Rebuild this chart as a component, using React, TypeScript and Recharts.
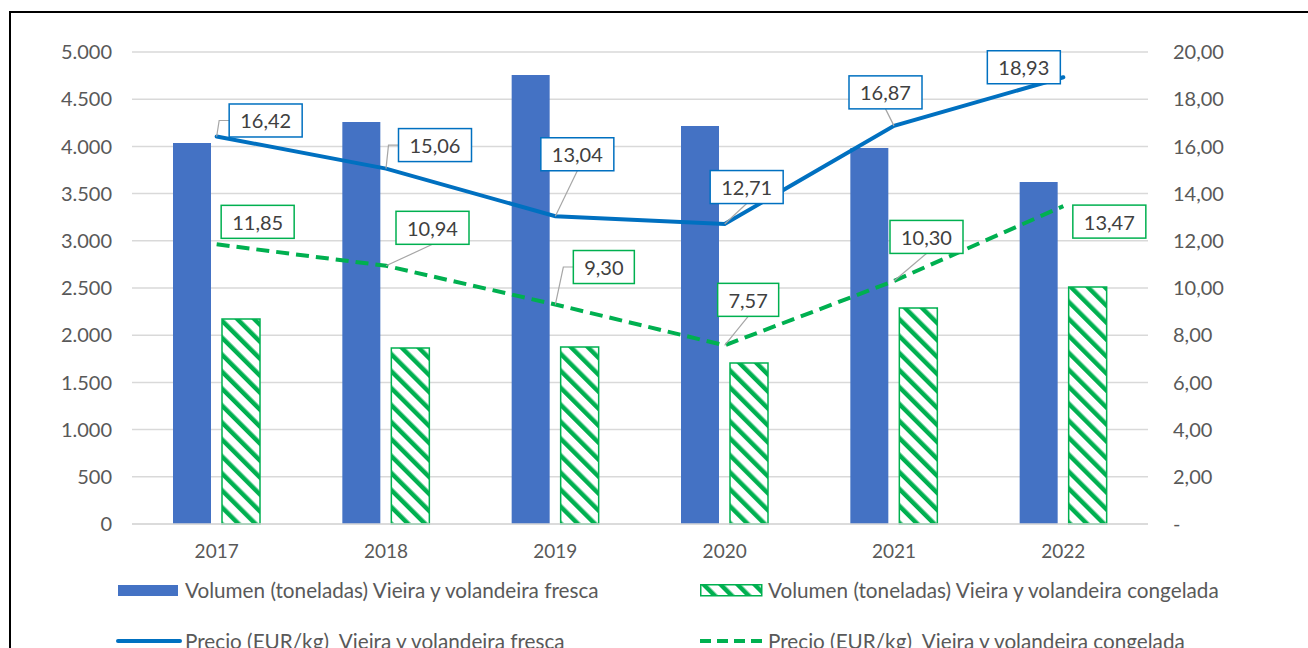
import { ComposedChart, Bar, Line, XAxis, YAxis, CartesianGrid, LabelList } from 'recharts';

const YEARS = ['2017', '2018', '2019', '2020', '2021', '2022'];
const VOL_FRESCA = [4036, 4258, 4756, 4216, 3983, 3623];
const VOL_CONGELADA = [2172, 1864, 1875, 1706, 2288, 2511];
const PRECIO_FRESCA = [16.42, 15.06, 13.04, 12.71, 16.87, 18.93];
const PRECIO_CONGELADA = [11.85, 10.94, 9.3, 7.57, 10.3, 13.47];
const VOL_TICKS = [0, 500, 1000, 1500, 2000, 2500, 3000, 3500, 4000, 4500, 5000];
const PRECIO_TICKS = [0, 2, 4, 6, 8, 10, 12, 14, 16, 18, 20];
const SERIES_NAMES = [
  'Volumen (toneladas) Vieira y volandeira fresca',
  'Volumen (toneladas) Vieira y volandeira congelada',
  'Precio (EUR/kg)  Vieira y volandeira fresca',
  'Precio (EUR/kg)  Vieira y volandeira congelada',
];

const BLUE_BAR = '#4472c4';
const BLUE_LINE = '#0070c0';
const GREEN = '#00b050';
const GRID = '#d9d9d9';
const AXIS_TEXT = '#595959';
const LABEL_TEXT = '#404040';
const FONT = 'Lato, sans-serif';

type Leader = 'elbow' | 'down' | 'none';
// where each data label box sits relative to its point (Excel moved them by hand)
const FRESCA_LABEL_POS: { dx: number; dy: number; leader: Leader }[] = [
  { dx: 49, dy: -16, leader: 'elbow' },
  { dx: 49, dy: -23.5, leader: 'elbow' },
  { dx: 22, dy: -62, leader: 'down' },
  { dx: 22, dy: -37, leader: 'down' },
  { dx: -8.5, dy: -33.5, leader: 'down' },
  { dx: -39.5, dy: -10, leader: 'none' },
];
const CONGELADA_LABEL_POS: { dx: number; dy: number; leader: Leader }[] = [
  { dx: 41, dy: -22.5, leader: 'none' },
  { dx: 46.5, dy: -38, leader: 'down' },
  { dx: 48.5, dy: -37.5, leader: 'elbow' },
  { dx: 23.5, dy: -45.5, leader: 'down' },
  { dx: 32.5, dy: -44, leader: 'down' },
  { dx: 46, dy: 15.5, leader: 'none' },
];

const data = YEARS.map((year, i) => ({
  year,
  volFresca: VOL_FRESCA[i],
  volCongelada: VOL_CONGELADA[i],
  precioFresca: PRECIO_FRESCA[i],
  precioCongelada: PRECIO_CONGELADA[i],
}));

const fmtVol = (v: number) => v.toLocaleString('de-DE');
const fmtPrecio = (v: number) => (v === 0 ? '-' : v.toFixed(2).replace('.', ','));

function makeLabel(color: string, pos: { dx: number; dy: number; leader: Leader }[]) {
  return (props: any) => {
    const { index, value } = props;
    const px = props.x ?? props.viewBox?.x;
    const py = props.y ?? props.viewBox?.y;
    if (px == null || py == null) return null;
    const p = pos[index];
    const text = fmtPrecio(Number(value));
    const w = 12 * text.length + 13;
    const h = 33;
    const cx = px + p.dx;
    const cy = py + p.dy;
    const left = cx - w / 2;
    const top = cy - h / 2;
    let leader = null;
    if (p.leader === 'elbow') {
      leader = (
        <polyline
          points={`${px},${py} ${left - 10},${cy} ${left},${cy}`}
          fill="none"
          stroke="#a6a6a6"
          strokeWidth={1.2}
        />
      );
    } else if (p.leader === 'down') {
      leader = <line x1={px} y1={py} x2={cx} y2={top + h} stroke="#a6a6a6" strokeWidth={1.2} />;
    }
    return (
      <g key={`lbl-${color}-${index}`}>
        {leader}
        <rect x={left} y={top} width={w} height={h} fill="#fff" stroke={color} strokeWidth={1.5} />
        <text
          x={cx}
          y={cy}
          textAnchor="middle"
          dominantBaseline="central"
          fill={LABEL_TEXT}
          fontSize={20}
          fontFamily={FONT}
        >
          {text}
        </text>
      </g>
    );
  };
}

function HatchDefs({ id }: { id: string }) {
  return (
    <defs>
      <pattern id={id} patternUnits="userSpaceOnUse" width={12} height={12} patternTransform="rotate(-45)">
        <rect width={12} height={12} fill="#fff" />
        <rect x={0} y={0} width={4.5} height={12} fill={GREEN} />
      </pattern>
    </defs>
  );
}

function LegendText({ left, center, children }: { left: number; center: number; children: string }) {
  return (
    <div
      style={{
        position: 'absolute',
        left,
        top: center - 12,
        lineHeight: '24px',
        fontSize: 20.7,
        fontFamily: FONT,
        color: AXIS_TEXT,
        whiteSpace: 'pre',
      }}
    >
      {children}
    </div>
  );
}

export default function App() {
  return (
    <div style={{ position: 'fixed', left: 0, top: 0, width: 1308, height: 648, overflow: 'hidden', background: '#fff' }}>
      <div
        style={{
          position: 'absolute',
          left: 9,
          top: 11,
          width: 1400,
          height: 700,
          border: '2px solid #000',
        }}
      />
      <div style={{ position: 'absolute', left: 0, top: 0 }}>
        <ComposedChart
          width={1308}
          height={648}
          data={data}
          margin={{ top: 52, right: 0, bottom: 0, left: 0 }}
          barSize={38}
          barGap={11}
        >
          <HatchDefs id="hatchGreen" />
          <CartesianGrid yAxisId="left" vertical={false} stroke={GRID} strokeWidth={1.5} />
          <XAxis
            dataKey="year"
            height={124}
            tickLine={false}
            tickSize={0}
            tickMargin={21}
            axisLine={{ stroke: GRID, strokeWidth: 1.5 }}
            tick={{ fill: AXIS_TEXT, fontSize: 19, fontFamily: FONT }}
          />
          <YAxis
            yAxisId="left"
            width={132}
            domain={[0, 5000]}
            ticks={VOL_TICKS}
            tickFormatter={fmtVol}
            axisLine={false}
            tickLine={false}
            tickSize={0}
            tickMargin={20}
            tick={{ fill: AXIS_TEXT, fontSize: 20, fontFamily: FONT }}
          />
          <YAxis
            yAxisId="right"
            orientation="right"
            width={160}
            domain={[0, 20]}
            ticks={PRECIO_TICKS}
            tickFormatter={fmtPrecio}
            axisLine={false}
            tickLine={false}
            tickSize={0}
            tickMargin={25}
            tick={{ fill: AXIS_TEXT, fontSize: 20, fontFamily: FONT, textAnchor: 'start' }}
          />
          <Bar yAxisId="left" dataKey="volFresca" name={SERIES_NAMES[0]} fill={BLUE_BAR} isAnimationActive={false} />
          <Bar
            yAxisId="left"
            dataKey="volCongelada"
            name={SERIES_NAMES[1]}
            fill="url(#hatchGreen)"
            stroke={GREEN}
            strokeWidth={1.5}
            isAnimationActive={false}
          />
          {/* label carriers drawn under the visible lines */}
          <Line yAxisId="right" dataKey="precioFresca" stroke="none" dot={false} activeDot={false} isAnimationActive={false}>
            <LabelList dataKey="precioFresca" content={makeLabel(BLUE_LINE, FRESCA_LABEL_POS)} />
          </Line>
          <Line yAxisId="right" dataKey="precioCongelada" stroke="none" dot={false} activeDot={false} isAnimationActive={false}>
            <LabelList dataKey="precioCongelada" content={makeLabel(GREEN, CONGELADA_LABEL_POS)} />
          </Line>
          <Line
            yAxisId="right"
            dataKey="precioFresca"
            name={SERIES_NAMES[2]}
            stroke={BLUE_LINE}
            strokeWidth={4}
            strokeLinecap="round"
            dot={false}
            activeDot={false}
            isAnimationActive={false}
          />
          <Line
            yAxisId="right"
            dataKey="precioCongelada"
            name={SERIES_NAMES[3]}
            stroke={GREEN}
            strokeWidth={4}
            strokeDasharray="13 7"
            dot={false}
            activeDot={false}
            isAnimationActive={false}
          />
        </ComposedChart>
      </div>

      {/* legend */}
      <div style={{ position: 'absolute', left: 118, top: 585, width: 60, height: 11, background: BLUE_BAR }} />
      <LegendText left={185} center={590}>{SERIES_NAMES[0]}</LegendText>
      <svg style={{ position: 'absolute', left: 700, top: 584 }} width={63} height={13}>
        <HatchDefs id="hatchLegend" />
        <rect x={0.75} y={0.75} width={61} height={11} fill="url(#hatchLegend)" stroke={GREEN} strokeWidth={1.5} />
      </svg>
      <LegendText left={768} center={590}>{SERIES_NAMES[1]}</LegendText>
      <svg style={{ position: 'absolute', left: 116, top: 636 }} width={66} height={10}>
        <line x1={2} y1={5} x2={64} y2={5} stroke={BLUE_LINE} strokeWidth={4} strokeLinecap="round" />
      </svg>
      <LegendText left={185} center={641}>{SERIES_NAMES[2]}</LegendText>
      <svg style={{ position: 'absolute', left: 700, top: 636 }} width={64} height={10}>
        <line x1={0} y1={5} x2={62} y2={5} stroke={GREEN} strokeWidth={4} strokeDasharray="11 6" />
      </svg>
      <LegendText left={768} center={641}>{SERIES_NAMES[3]}</LegendText>
    </div>
  );
}
